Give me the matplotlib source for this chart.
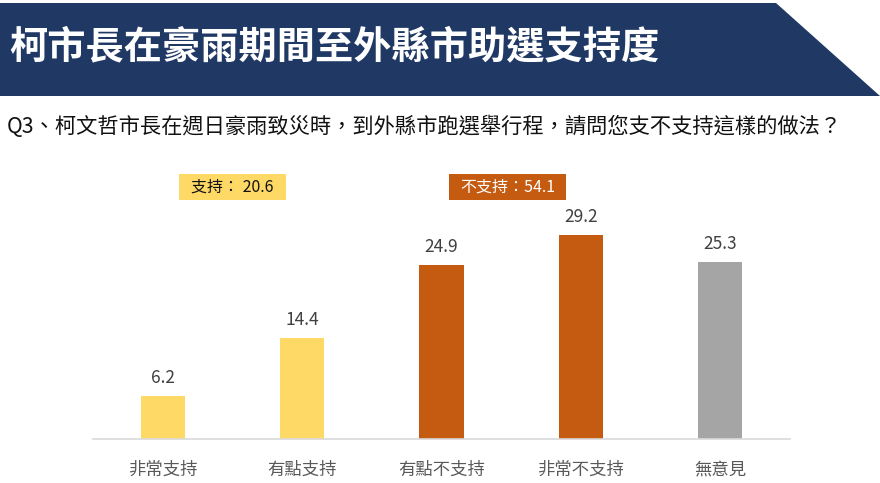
import matplotlib
matplotlib.use('Agg')
import matplotlib.pyplot as plt
from matplotlib.patches import Polygon, Rectangle

plt.rcParams['font.family'] = ['Noto Sans CJK TC', 'DejaVu Sans']

# data
categories = ['非常支持', '有點支持', '有點不支持', '非常不支持', '無意見']
values = [6.2, 14.4, 24.9, 29.2, 25.3]
bar_colors = ['#FFD966', '#FFD966', '#C55A11', '#C55A11', '#A5A5A5']
title = '柯市長在豪雨期間至外縣市助選支持度'
question = 'Q3、柯文哲市長在週日豪雨致災時，到外縣市跑選舉行程，請問您支不支持這樣的做法？'
support_label = '支持： 20.6'
oppose_label = '不支持：54.1'

W, H = 880, 483
fig = plt.figure(figsize=(W / 100, H / 100), dpi=100)

def px(x, y):
    # pixel coords (top-left origin) -> figure fraction
    return x / W, 1 - y / H

# title banner
banner = Polygon([px(0, 3), px(776, 3), px(880, 96), px(0, 96)],
                 closed=True, transform=fig.transFigure,
                 facecolor='#203864', edgecolor='none')
fig.patches.append(banner)
fig.text(*px(9, 47), title, color='white', fontsize=27.5, fontweight='bold',
         va='center', ha='left')

fig.text(*px(7, 127), question, color='#111111', fontsize=15.3,
         va='center', ha='left')

# bar chart
ax = fig.add_axes([93 / W, 44 / H, 697 / W, 279.6 / H])
x = range(len(categories))
ax.bar(x, values, width=0.316, color=bar_colors)
for i, v in zip(x, values):
    ax.text(i, v + 1.3, f'{v}', ha='center', va='bottom',
            fontsize=12.5, color='#404040')
ax.set_xlim(-0.5, 4.5)
ax.set_ylim(0, 40)
ax.set_yticks([])
ax.set_xticks(list(x))
ax.set_xticklabels(categories, fontsize=12.5, color='#595959')
ax.tick_params(axis='x', length=0, pad=16)
for s in ['top', 'left', 'right']:
    ax.spines[s].set_visible(False)
ax.spines['bottom'].set_color('#D9D9D9')
ax.spines['bottom'].set_linewidth(1.2)

# summary boxes
def summary_box(x0, x1, y0, y1, color, label, tcolor):
    (fx0, fy1), (fx1, fy0) = px(x0, y0), px(x1, y1)
    fig.patches.append(Rectangle((fx0, fy0), fx1 - fx0, fy1 - fy0,
                                 transform=fig.transFigure,
                                 facecolor=color, edgecolor='none'))
    fig.text((fx0 + fx1) / 2, (fy0 + fy1) / 2, label, color=tcolor,
             fontsize=11.5, ha='center', va='center')

summary_box(179, 286, 174, 200, '#FFD966', support_label, '#111111')
summary_box(449, 566, 174, 200, '#C55A11', oppose_label, 'white')

fig.savefig('out.png', dpi=100)
